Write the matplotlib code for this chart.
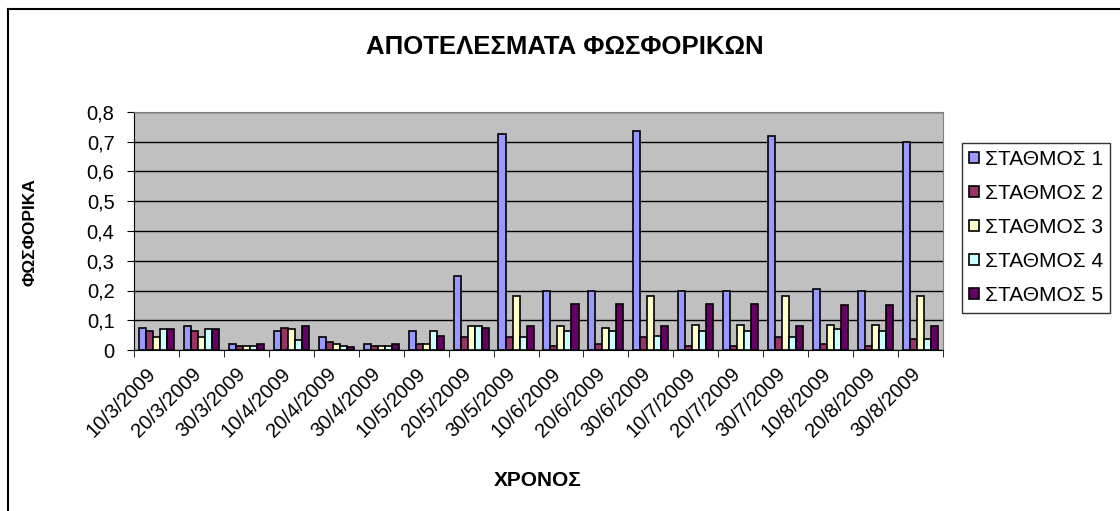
import numpy as np
import matplotlib
matplotlib.use('Agg')
import matplotlib.pyplot as plt
import matplotlib.transforms as mtrans
from matplotlib.lines import Line2D

plt.rcParams['font.family'] = ['Liberation Sans', 'DejaVu Sans']

# dates of sampling
dates = ['10/3/2009', '20/3/2009', '30/3/2009', '10/4/2009', '20/4/2009', '30/4/2009',
         '10/5/2009', '20/5/2009', '30/5/2009', '10/6/2009', '20/6/2009', '30/6/2009',
         '10/7/2009', '20/7/2009', '30/7/2009', '10/8/2009', '20/8/2009', '30/8/2009']

# phosphate values per station
st1 = [0.075, 0.08, 0.02, 0.065, 0.043, 0.02, 0.065, 0.25, 0.725, 0.2, 0.2, 0.735,
       0.2, 0.2, 0.72, 0.205, 0.2, 0.7]
st2 = [0.065, 0.065, 0.015, 0.075, 0.027, 0.015, 0.02, 0.043, 0.043, 0.015, 0.02, 0.043,
       0.015, 0.015, 0.043, 0.02, 0.015, 0.038]
st3 = [0.043, 0.043, 0.015, 0.07, 0.02, 0.015, 0.02, 0.08, 0.18, 0.08, 0.075, 0.18,
       0.085, 0.085, 0.18, 0.085, 0.085, 0.18]
st4 = [0.07, 0.07, 0.015, 0.033, 0.015, 0.015, 0.065, 0.08, 0.043, 0.065, 0.065, 0.048,
       0.065, 0.065, 0.043, 0.07, 0.065, 0.038]
st5 = [0.07, 0.07, 0.02, 0.08, 0.01, 0.02, 0.048, 0.075, 0.08, 0.155, 0.155, 0.08,
       0.155, 0.155, 0.08, 0.15, 0.15, 0.08]

stations = ['ΣΤΑΘΜΟΣ 1', 'ΣΤΑΘΜΟΣ 2', 'ΣΤΑΘΜΟΣ 3', 'ΣΤΑΘΜΟΣ 4', 'ΣΤΑΘΜΟΣ 5']
colors = ['#9999FF', '#993366', '#FFFFCC', '#CCFFFF', '#660066']
series = [st1, st2, st3, st4, st5]

fig = plt.figure(figsize=(11.2, 5.11), dpi=100)
ax = fig.add_axes([134/1120, 1 - 350/511, (943-134)/1120, (350-112)/511])
ax.set_facecolor('#C0C0C0')

x = np.arange(len(dates))
w = 0.156
for j, (vals, c, lab) in enumerate(zip(series, colors, stations)):
    ax.bar(x + (j - 2) * w, vals, width=w, color=c, edgecolor='black',
           linewidth=1.2, label=lab, zorder=3)

ax.set_xlim(-0.5, len(dates) - 0.5)
ax.set_ylim(0, 0.8)
yt = np.arange(0, 0.81, 0.1)
ax.set_yticks(yt)
ax.set_yticklabels(['0'] + [('%.1f' % v).replace('.', ',') for v in yt[1:]], fontsize=14.5)
ax.yaxis.grid(True, color='black', linewidth=1, zorder=1)
ax.set_axisbelow(True)

ax.set_xticks(x)
ax.set_xticklabels(dates, rotation=45, ha='right', rotation_mode='anchor', fontsize=14.5)
ax.tick_params(axis='x', which='major', length=0, pad=10)
ax.set_xticks(np.arange(-0.5, len(dates), 1), minor=True)
ax.tick_params(axis='x', which='minor', length=5, direction='out')
ax.tick_params(axis='y', length=5, direction='out', pad=9)

# nudge the slanted date labels a little to the left
shift = mtrans.ScaledTranslation(-10/100, 0, fig.dpi_scale_trans)
for lbl in ax.get_xticklabels():
    lbl.set_transform(lbl.get_transform() + shift)

for s in ['top', 'right']:
    ax.spines[s].set_color('#808080')
for s in ['left', 'bottom']:
    ax.spines[s].set_color('black')

fig.text(565/1120, 1 - 47/511, 'ΑΠΟΤΕΛΕΣΜΑΤΑ ΦΩΣΦΟΡΙΚΩΝ', ha='center', va='center',
         fontsize=18.5, fontweight='bold')
fig.text(30/1120, 1 - 232/511, 'ΦΩΣΦΟΡΙΚΑ', ha='center', va='center', rotation=90,
         fontsize=12.5, fontweight='bold')
fig.text(538/1120, 1 - 480/511, 'ΧΡΟΝΟΣ', ha='center', va='center',
         fontsize=15, fontweight='bold')

leg = ax.legend(loc='upper left', bbox_to_anchor=(962/1120, 1 - 143/511),
                bbox_transform=fig.transFigure, fontsize=15, frameon=True,
                fancybox=False, edgecolor='black', handlelength=0.45, handleheight=0.45,
                handletextpad=0.3, labelspacing=0.72, borderpad=0.35, borderaxespad=0)
leg.get_frame().set_linewidth(1)

# outer chart border
fig.add_artist(Line2D([8/1120, 8/1120], [0, 1 - 9/511], color='black', linewidth=1.5))
fig.add_artist(Line2D([8/1120, 1], [1 - 9/511, 1 - 9/511], color='black', linewidth=1.5))

fig.savefig('out.png', dpi=100)
